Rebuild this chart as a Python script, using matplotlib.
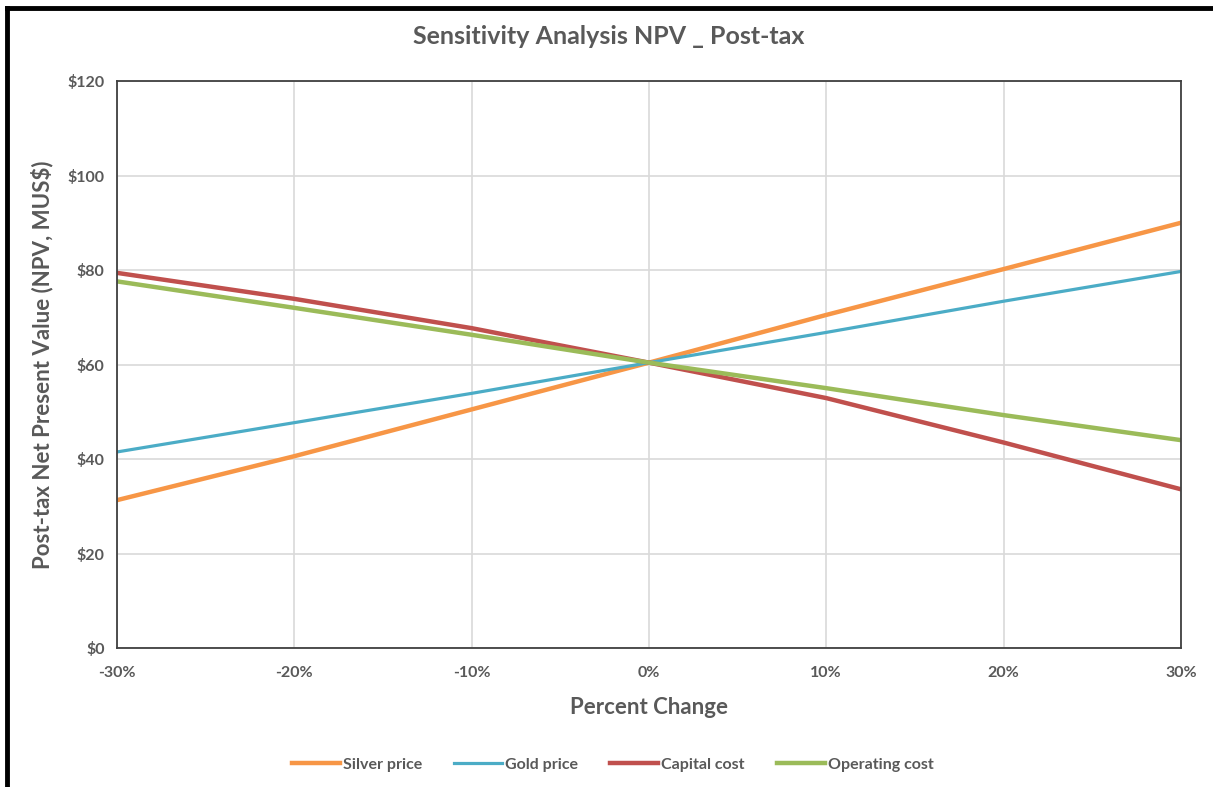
import matplotlib.pyplot as plt
from matplotlib.lines import Line2D
from matplotlib.ticker import FuncFormatter

plt.rcParams['font.family'] = ['Lato', 'DejaVu Sans']

pct_change = [-30, -20, -10, 0, 10, 20, 30]
silver_price = [31.3, 40.6, 50.5, 60.4, 70.5, 80.2, 90.0]
gold_price = [41.5, 47.7, 53.9, 60.4, 66.8, 73.4, 79.7]
capital_cost = [79.4, 73.9, 67.7, 60.4, 52.9, 43.5, 33.6]
operating_cost = [77.6, 72.0, 66.3, 60.4, 55.0, 49.3, 44.0]

grey = "#595959"

fig = plt.figure(figsize=(12.13, 7.87), dpi=100)
ax = fig.add_axes([0.0965, 0.1766, 0.877, 0.7204])

ax.plot(pct_change, silver_price, color="#F79646", lw=3.2, label="Silver price")
ax.plot(pct_change, gold_price, color="#4BACC6", lw=2.3, label="Gold price")
ax.plot(pct_change, capital_cost, color="#C0504D", lw=3.2, label="Capital cost")
ax.plot(pct_change, operating_cost, color="#9BBB59", lw=3.2, label="Operating cost")

ax.set_xlim(-30, 30)
ax.set_ylim(0, 120)
ax.set_xticks(pct_change)
ax.set_yticks(range(0, 121, 20))
ax.xaxis.set_major_formatter(FuncFormatter(lambda v, p: f"{v:.0f}%"))
ax.yaxis.set_major_formatter(FuncFormatter(lambda v, p: f"${v:.0f}"))
ax.grid(True, color="#D9D9D9", lw=1.2)
ax.set_axisbelow(True)
ax.tick_params(length=0, labelsize=11.5, labelcolor=grey, pad=13)
ax.tick_params(axis="y", pad=9)
for lab in ax.get_xticklabels() + ax.get_yticklabels():
    lab.set_fontweight("bold")
for s in ax.spines.values():
    s.set_color("#404040")
    s.set_linewidth(1.3)

fig.suptitle("Sensitivity Analysis NPV _ Post-tax", x=0.502, y=0.953, fontsize=18,
             fontweight="bold", color=grey, va="center")
ax.set_xlabel("Percent Change", fontsize=16, fontweight="bold", color=grey, labelpad=12)
ax.set_ylabel("Post-tax Net Present Value (NPV, MUS$)", fontsize=16, fontweight="bold",
              color=grey, labelpad=10)

leg = fig.legend(loc="center", bbox_to_anchor=(0.505, 0.028), ncol=4, frameon=False,
                 fontsize=11.5, handlelength=3, handletextpad=0.2, columnspacing=2.0)
for t in leg.get_texts():
    t.set_color(grey)
    t.set_fontweight("bold")

# black frame around the chart image
fig.add_artist(Line2D([0.0055, 0.0055], [0.0, 0.9895], transform=fig.transFigure,
                      color="black", lw=3.5))
fig.add_artist(Line2D([0.0055, 1.0], [0.9895, 0.9895], transform=fig.transFigure,
                      color="black", lw=3.5))

fig.savefig("out.png", dpi=100)
